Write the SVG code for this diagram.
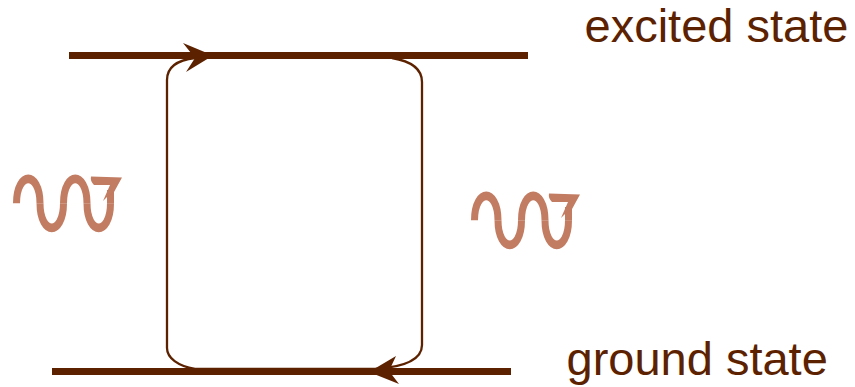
<svg xmlns="http://www.w3.org/2000/svg" xmlns:xlink="http://www.w3.org/1999/xlink" width="855" height="387" viewBox="0 0 855 387">
<style>
.lvl{fill:none;stroke:#5c2200;stroke-width:7}
.loop{fill:none;stroke:#5c2200;stroke-width:2.3}
.head{fill:#5c2200}
.wave{fill:none;stroke:#c27c62;stroke-width:7}
.wh{fill:#c27c62}
.t{font-family:"Liberation Sans",Arial,sans-serif;font-size:47px;fill:#5c2200}
</style>
<defs>
<g id="photon">
<g transform="scale(1 1.25)">
<path class="wave" d="M16.500 162.680c0 -13.600 6.500 -19.600 11.750 -19.600s11.750 6 11.750 19.600"/>
<path class="wave" d="M40 162.680c0 13.600 6.500 19.600 11.750 19.600s11.750 -6 11.750 -19.600"/>
<path class="wave" d="M63.500 162.680c0 -13.600 6.500 -19.600 11.750 -19.600s11.750 6 11.750 19.600"/>
<path class="wave" d="M87 162.680c0 13.600 6.500 19.600 11.750 19.600s11.750 -6 11.750 -19.600"/>
<path class="wave" d="M110.500 162.680V152"/>
</g>
<path class="wh" d="M91 176.500L122 177.500L113.500 193L107 197L103 201L110 185L94 185Q90 181 91 176.500Z"/>
</g>
</defs>
<g id="connectors">
<path class="loop" d="M195 58C178 60 167 66 167 80V348C167 358 178 366 195 369H375C405 367 422 360 422 345V82C422 68 410 61 392 58"/>
</g>
<g id="excited-level">
<path class="lvl" d="M69 55.500H528"/>
<path class="head" d="M183 43L213 55.500L186 72L195 58Z"/>
<text class="t" x="584.500" y="42.400">excited state</text>
</g>
<g id="ground-level">
<path class="lvl" d="M52 371.500H511"/>
<path class="head" d="M369 372L396 356L389 371L399 384Z"/>
<text class="t" x="566.500" y="375">ground state</text>
</g>
<g id="photon-left"><use xlink:href="#photon" href="#photon"/></g>
<g id="photon-right"><use xlink:href="#photon" href="#photon" transform="translate(458 17)"/></g>
</svg>
